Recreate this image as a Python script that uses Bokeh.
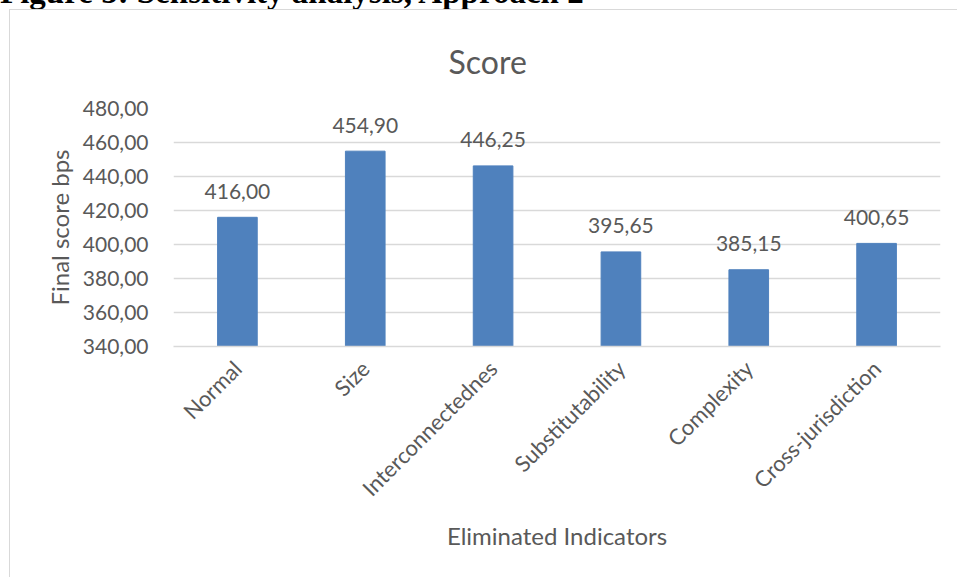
from bokeh.plotting import figure
from bokeh.layouts import column
from bokeh.models import (ColumnDataSource, CustomJSTickFormatter, FixedTicker,
                          Range1d, Div)
from bokeh.core.properties import value
from bokeh.embed import file_html
from bokeh.resources import INLINE
from math import pi

categories = ["Normal", "Size", "Interconnectednes", "Substitutability",
              "Complexity", "Cross-jurisdiction"]
scores = [416.00, 454.90, 446.25, 395.65, 385.15, 400.65]
y_ticks = [340, 360, 380, 400, 420, 440, 460, 480]

TEXT = "#595959"
GRID = "#D9D9D9"
BAR = "#4F81BD"
FONT = "Lato"

labels = [f"{v:.2f}".replace(".", ",") for v in scores]
src = ColumnDataSource(data=dict(cat=categories, score=scores, label=labels))

# document heading line above the chart (only its lower part lies in view)
heading = Div(
    text=("<div style=\"position:relative; top:-24px; white-space:nowrap; "
          "font-family:'Liberation Serif'; font-weight:bold; font-size:33px; "
          "line-height:33px; color:black;\">"
          "Figure 5: Sensitivity analysis, Approach 2</div>"),
    width=957, height=9, margin=(0, 0, 0, 0), styles={"overflow": "hidden"})

p = figure(x_range=categories, y_range=Range1d(340, 480),
           width=957, height=568, output_backend="svg", toolbar_location=None,
           min_border_left=173, min_border_right=17,
           min_border_top=99, min_border_bottom=231,
           title="Score", margin=(0, 0, 0, 0))
p.outline_line_color = None
# transparent canvas so the chart-area border drawn behind it shows through
p.background_fill_color = None
p.border_fill_color = None
p.styles = {
    "background-color": "white",
    "background-image": "linear-gradient(#D9D9D9, #D9D9D9), linear-gradient(#D9D9D9, #D9D9D9)",
    "background-size": "1px 700px, 1100px 1px",
    "background-position": "9px 0px, 9px 0px",
    "background-repeat": "no-repeat",
}

p.title.align = "left"
p.title.offset = 275
p.title.standoff = 56
p.title.text_color = TEXT
p.title.text_font = FONT
p.title.text_font_size = "32px"
p.title.text_font_style = "normal"

p.vbar(x="cat", top="score", bottom=340, width=0.31, source=src,
       fill_color=BAR, line_color=BAR)
p.text(x="cat", y="score", text="label", source=src,
       text_align="center", text_baseline="alphabetic", y_offset=-26,
       text_color=TEXT, text_font_size="21px", text_font=value(FONT))

# y axis
p.yaxis.ticker = FixedTicker(ticks=y_ticks)
p.yaxis.formatter = CustomJSTickFormatter(
    code="return tick.toFixed(2).replace('.', ',');")
p.yaxis.axis_line_color = None
p.yaxis.major_tick_line_color = None
p.yaxis.minor_tick_line_color = None
p.yaxis.major_label_standoff = 19
p.yaxis.major_label_text_color = TEXT
p.yaxis.major_label_text_font = FONT
p.yaxis.major_label_text_font_size = "21px"
p.yaxis.axis_label = "Final score bps"
p.yaxis.axis_label_text_color = TEXT
p.yaxis.axis_label_text_font = FONT
p.yaxis.axis_label_text_font_size = "24px"
p.yaxis.axis_label_text_font_style = "normal"
p.yaxis.axis_label_standoff = 6

# x axis
p.xaxis.axis_line_color = GRID
p.xaxis.axis_line_width = 1.5
p.xaxis.major_tick_line_color = None
p.xaxis.minor_tick_line_color = None
p.xaxis.major_label_orientation = pi / 4
p.xaxis.major_label_standoff = 12
p.xaxis.major_label_text_color = TEXT
p.xaxis.major_label_text_font = FONT
p.xaxis.major_label_text_font_size = "22px"
p.xaxis.axis_label = "Eliminated Indicators"
p.xaxis.axis_label_text_color = TEXT
p.xaxis.axis_label_text_font = FONT
p.xaxis.axis_label_text_font_size = "24px"
p.xaxis.axis_label_text_font_style = "normal"
p.xaxis.axis_label_standoff = 7

p.xgrid.grid_line_color = None
p.ygrid.grid_line_color = GRID
p.ygrid.grid_line_width = 1.5

layout = column(heading, p, spacing=0)
open("out.html", "w").write(file_html(layout, INLINE))
